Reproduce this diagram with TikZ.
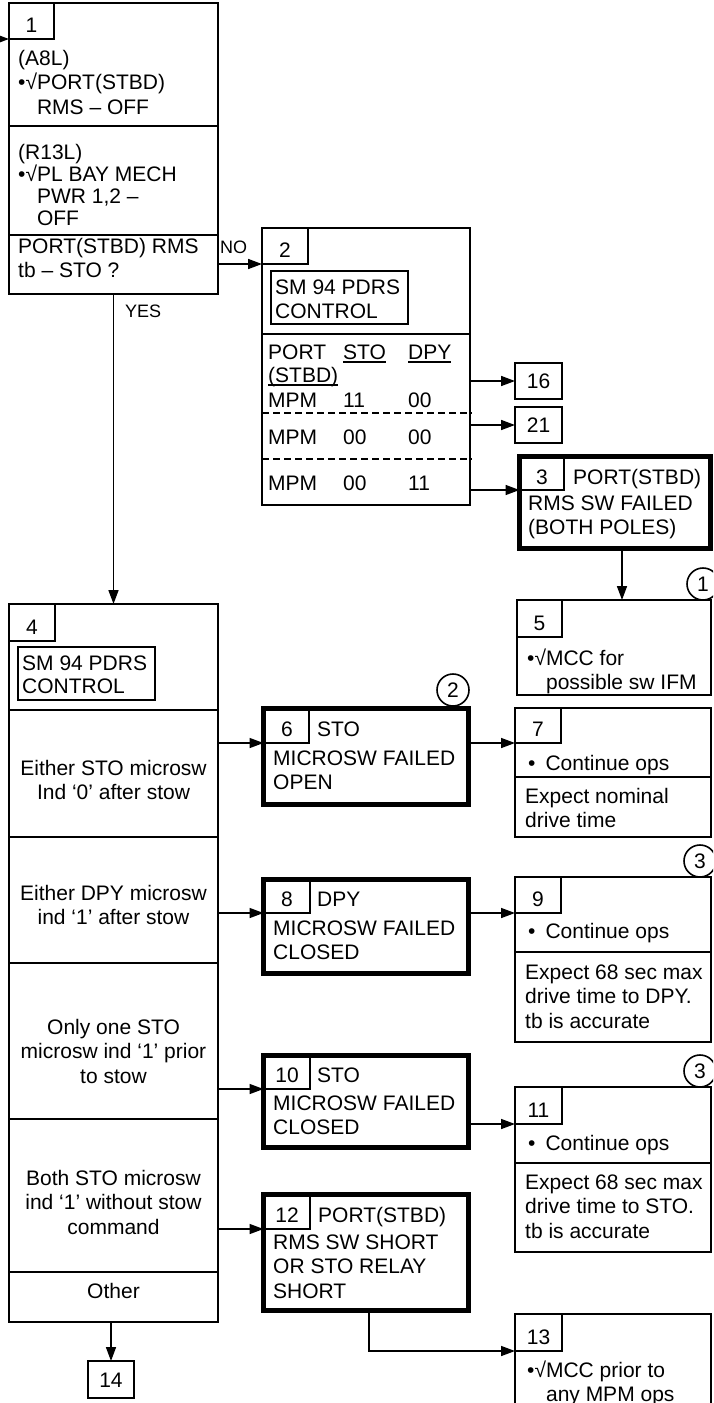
\documentclass[tikz,border=0pt]{standalone}
\usepackage{fontspec}
\setmainfont{Liberation Sans}
\usetikzlibrary{arrows.meta}
\newcommand\fs{\fontsize{21pt}{24.5pt}\selectfont}
\newcommand\fsb{\fontsize{21pt}{22pt}\selectfont}
\newcommand\fsc{\fontsize{21pt}{23.5pt}\selectfont}
\newcommand\lfs{\fontsize{18pt}{21pt}\selectfont}
\newcommand\myul[1]{\setbox0\hbox{#1}\rlap{\rule[-3.7pt]{\wd0}{1.4pt}}\box0}
\begin{document}
\begin{tikzpicture}[x=1pt,y=-1pt,
  tbox/.style={draw, line width=1.6pt, inner sep=0pt, outer sep=0pt, anchor=north west},
  kbox/.style={draw, line width=5pt, inner sep=0pt, outer sep=0pt, anchor=north west},
  tabbox/.style={draw, line width=1.6pt, inner sep=0pt, outer sep=0pt, anchor=north west},
  ln/.style={line width=1.6pt},
  dln/.style={line width=1.8pt, dash pattern=on 7pt off 4pt},
  arr/.style={line width=1.6pt, -{Triangle[length=14pt,width=10pt]}},
  txt/.style={anchor=base west, inner sep=0pt, align=left, font=\fs},
  ctxt/.style={anchor=base, inner sep=0pt, align=center, font=\fs},
  lbl/.style={anchor=base west, inner sep=0pt, font=\lfs},
  circ/.style={draw, circle, line width=1.6pt, minimum size=32pt, inner sep=0pt, font=\fs}
]
\useasboundingbox (0,0) rectangle (713,1403);
\fill[white] (0,0) rectangle (713,1403);
\clip (0,0) rectangle (713,1403);

% (multi-line nodes are placed by the baseline of their LAST line)
% ---------- Box 1 ----------
\node[tbox, minimum width=209pt, minimum height=291pt] (b1) at (9,3) {};
\node[tabbox, minimum width=45pt, minimum height=36pt] (n1) at (9,3) {};
\node[ctxt] (t1) at (31.5,32.5) {1};
\draw[ln] (9,126) -- (218,126);
\draw[ln] (9,235) -- (218,235);
\node[txt] (t1a) at (18,114) {(A8L)\\•√PORT(STBD)\\\phantom{•√}RMS – OFF};
\node[txt, font=\fsb] (t1b) at (18,225) {(R13L)\\•√PL BAY MECH\\\phantom{•√}PWR 1,2 –\\\phantom{•√}OFF};
\node[txt] (t1c) at (18,277.5) {PORT(STBD) RMS\\tb – STO ?};
\coordinate (in1) at (0,39);
\draw[arr] (in1) -- (n1.south west);

% ---------- Box 2 ----------
\node[tbox, minimum width=208pt, minimum height=277pt] (b2) at (262,228) {};
\node[tabbox, minimum width=46pt, minimum height=36pt] (n2) at (262,228) {};
\node[ctxt] (t2) at (285,257.5) {2};
\node[tbox, minimum width=137pt, minimum height=53pt] (sm2) at (271,271) {};
\node[txt, font=\fsc] (sm2t) at (275,318) {SM 94 PDRS\\CONTROL};
\draw[ln] (262,334) -- (470,334);
\draw[dln] (262,413) -- (472,413);
\draw[dln] (262,459) -- (472,459);
\node[txt] (h1) at (268,359) {PORT};
\node[txt] (h2) at (343,359) {\myul{STO}};
\node[txt] (h3) at (408,359) {\myul{DPY}};
\node[txt] (h4) at (268,382) {\myul{(STBD)}};
\node[txt] (r1a) at (268,407) {MPM};
\node[txt] (r1b) at (343,407) {11};
\node[txt] (r1c) at (408,407) {00};
\node[txt] (r2a) at (268,444) {MPM};
\node[txt] (r2b) at (343,444) {00};
\node[txt] (r2c) at (408,444) {00};
\node[txt] (r3a) at (268,490) {MPM};
\node[txt] (r3b) at (343,490) {00};
\node[txt] (r3c) at (408,490) {11};
\draw[arr] (b1.east |- n2.south west) -- (n2.south west);
\node[lbl] (no) at (220,253) {NO};

% ---------- Boxes 16, 21 ----------
\node[tbox, minimum width=47pt, minimum height=36pt] (b16) at (515,363) {};
\node[ctxt] (t16) at (538.5,388.5) {16};
\node[tbox, minimum width=47pt, minimum height=36pt] (b21) at (515,407) {};
\node[ctxt] (t21) at (538.5,432.5) {21};
\draw[arr] (b2.east |- b16.west) -- (b16.west);
\draw[arr] (b2.east |- b21.west) -- (b21.west);

% ---------- Box 3 ----------
\node[kbox, minimum width=191pt, minimum height=91.5pt] (b3) at (519.5,456.5) {};
\node[tabbox, minimum width=44.5pt, minimum height=33.5pt] (n3) at (519.5,456.5) {};
\node[ctxt] (t3) at (542,484) {3};
\node[txt] (t3a) at (573,484) {PORT(STBD)};
\node[txt] (t3b) at (528,534.5) {RMS SW FAILED\\(BOTH POLES)};
\draw[arr] (b2.east |- n3.south west) -- (n3.south west);

% ---------- Box 5 ----------
\node[tbox, minimum width=194pt, minimum height=95pt] (b5) at (517,600) {};
\node[tabbox, minimum width=45pt, minimum height=37pt] (n5) at (517,600) {};
\node[ctxt] (t5) at (539.5,630) {5};
\node[txt] (t5a) at (527,689.5) {•√MCC for\\\phantom{•√}possible sw IFM};
\draw[arr] ([xshift=7pt]b3.south) -- ([xshift=7pt]b3.south |- b5.north);
\node[circ] (c1) at (703,584) {1};

% ---------- Box 4 ----------
\node[tbox, minimum width=209pt, minimum height=718pt] (b4) at (9,604) {};
\node[tabbox, minimum width=46pt, minimum height=37pt] (n4) at (9,604) {};
\node[ctxt] (t4) at (32,634) {4};
\node[tbox, minimum width=137pt, minimum height=53pt] (sm4) at (18,647) {};
\node[txt, font=\fsc] (sm4t) at (22,693.5) {SM 94 PDRS\\CONTROL};
\draw[ln] (9,710) -- (218,710);
\draw[ln] (9,837) -- (218,837);
\draw[ln] (9,963) -- (218,963);
\draw[ln] (9,1119) -- (218,1119);
\draw[ln] (9,1272) -- (218,1272);
\node[ctxt] (t4a) at (113.5,799.5) {Either STO microsw\\Ind ‘0’ after stow};
\node[ctxt] (t4b) at (113.5,924.5) {Either DPY microsw\\ind ‘1’ after stow};
\node[ctxt] (t4c) at (113.5,1083) {Only one STO\\microsw ind ‘1’ prior\\to stow};
\node[ctxt] (t4d) at (113.5,1234) {Both STO microsw\\ind ‘1’ without stow\\command};
\node[ctxt] (t4e) at (113.5,1298) {Other};
\draw[arr] (b1.south) -- (b4.north);
\node[lbl] (yes) at (125,317) {YES};

% ---------- Box 14 ----------
\node[tbox, minimum width=46pt, minimum height=37pt] (b14) at (88,1361) {};
\node[ctxt] (t14) at (111,1387) {14};
\draw[arr] (b4.south -| b14.north) -- (b14.north);

% ---------- Box 6 ----------
\node[kbox, minimum width=205pt, minimum height=96pt] (b6) at (263.5,708.5) {};
\node[tabbox, minimum width=45.5pt, minimum height=34.5pt] (n6) at (263.5,708.5) {};
\node[ctxt] (t6) at (287,736.5) {6};
\node[txt] (t6a) at (317,736.5) {STO};
\node[txt] (t6b) at (273,789.5) {MICROSW FAILED\\OPEN};
\draw[arr] (b4.east |- n6.south west) -- (n6.south west);
\node[circ] (c2) at (453,690) {2};

% ---------- Box 7 ----------
\node[tbox, minimum width=196pt, minimum height=129pt] (b7) at (515,708) {};
\node[tabbox, minimum width=46pt, minimum height=35pt] (n7) at (515,708) {};
\node[ctxt] (t7) at (538,736.5) {7};
\node[txt] (t7a) at (528,770) {•\hspace{10pt}Continue ops};
\draw[ln] (515,777) -- (711,777);
\node[txt] (t7b) at (525,827.5) {Expect nominal\\drive time};
\draw[arr] (b6.east |- n7.south west) -- (n7.south west);

% ---------- Box 8 ----------
\node[kbox, minimum width=205pt, minimum height=94pt] (b8) at (263.5,879.5) {};
\node[tabbox, minimum width=46.5pt, minimum height=33.5pt] (n8) at (263.5,879.5) {};
\node[ctxt] (t8) at (287,906.5) {8};
\node[txt] (t8a) at (317,906.5) {DPY};
\node[txt] (t8b) at (273,959.5) {MICROSW FAILED\\CLOSED};
\draw[arr] (b4.east |- n8.south west) -- (n8.south west);

% ---------- Box 9 ----------
\node[tbox, minimum width=196pt, minimum height=165pt] (b9) at (515,877) {};
\node[tabbox, minimum width=46pt, minimum height=36pt] (n9) at (515,877) {};
\node[ctxt] (t9) at (538,906.5) {9};
\node[txt] (t9a) at (528,938) {•\hspace{10pt}Continue ops};
\draw[ln] (515,952) -- (711,952);
\node[txt] (t9b) at (525,1028) {Expect 68 sec max\\drive time to DPY.\\tb is accurate};
\draw[arr] (b8.east |- n9.south west) -- (n9.south west);
\node[circ] (c3a) at (700,861) {3};

% ---------- Box 10 ----------
\node[kbox, minimum width=205pt, minimum height=92pt] (b10) at (263.5,1055.5) {};
\node[tabbox, minimum width=46.5pt, minimum height=33.5pt] (n10) at (263.5,1055.5) {};
\node[ctxt] (t10) at (287,1082.5) {10};
\node[txt] (t10a) at (317,1082.5) {STO};
\node[txt] (t10b) at (273,1134.5) {MICROSW FAILED\\CLOSED};
\draw[arr] (b4.east |- n10.south west) -- (n10.south west);

% ---------- Box 11 ----------
\node[tbox, minimum width=196pt, minimum height=165pt] (b11) at (515,1087) {};
\node[tabbox, minimum width=47pt, minimum height=37pt] (n11) at (515,1087) {};
\node[ctxt] (t11) at (538.5,1117.5) {11};
\node[txt] (t11a) at (528,1150) {•\hspace{10pt}Continue ops};
\draw[ln] (515,1163) -- (711,1163);
\node[txt] (t11b) at (525,1238) {Expect 68 sec max\\drive time to STO.\\tb is accurate};
\draw[arr] (b10.east |- n11.south west) -- (n11.south west);
\node[circ] (c3b) at (700,1071) {3};

% ---------- Box 12 ----------
\node[kbox, minimum width=205pt, minimum height=116pt] (b12) at (263.5,1194.5) {};
\node[tabbox, minimum width=46.5pt, minimum height=34.5pt] (n12) at (263.5,1194.5) {};
\node[ctxt] (t12) at (287,1222.5) {12};
\node[txt] (t12a) at (318,1222.5) {PORT(STBD)};
\node[txt] (t12b) at (273,1298) {RMS SW SHORT\\OR STO RELAY\\SHORT};
\draw[arr] (b4.east |- n12.south west) -- (n12.south west);

% ---------- Box 13 ----------
\node[tbox, minimum width=196pt, minimum height=130pt] (b13) at (515,1314) {};
\node[tabbox, minimum width=47pt, minimum height=37pt] (n13) at (515,1314) {};
\node[ctxt] (t13) at (538.5,1344.5) {13};
\node[txt] (t13a) at (527,1401.5) {•√MCC prior to\\\phantom{•√}any MPM ops};
\draw[arr] ([xshift=3pt]b12.south) |- (n13.south west);
\end{tikzpicture}
\end{document}
